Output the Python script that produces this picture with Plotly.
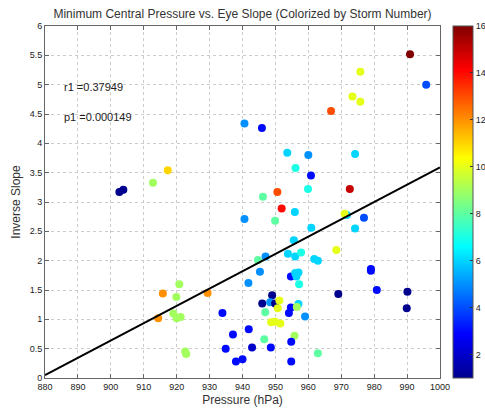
import plotly.graph_objects as go

# ---- data ----
pressure = [
    990.9, 995.8, 975.8, 973.4, 975.8, 966.9, 940.6, 945.9, 953.6, 960.0,
    974.2, 956.1, 960.8, 946.2, 950.6, 959.9, 972.6, 951.9, 955.9, 949.9,
    960.9, 971.7, 971.0, 976.9, 974.2, 955.6, 968.5, 940.6, 953.8, 956.0,
    957.8, 961.8, 962.9, 944.7, 947.0, 945.3, 941.8, 954.7, 956.0, 957.0,
    956.4, 957.2, 979.0, 979.0, 980.8, 969.1, 990.1, 989.9, 949.0, 946.0,
    948.4, 949.9, 951.2, 950.7, 954.7, 954.1, 957.0, 956.5, 946.9, 959.0,
    948.7, 949.9, 951.5, 937.1, 941.9, 955.8, 946.6, 954.8, 942.9, 948.6,
    962.9, 938.0, 940.0, 954.8, 902.6, 903.8, 912.8, 917.3, 915.8, 914.4,
    929.4, 920.8, 919.9, 919.0, 920.0, 921.2, 922.6, 922.9, 933.9, 934.9,
]
inverse_slope = [
    5.52, 5.00, 5.22, 4.80, 4.71, 4.55, 4.34, 4.26, 3.84, 3.80,
    3.82, 3.58, 3.45, 3.09, 3.17, 3.22, 3.22, 2.89, 2.83, 2.68,
    2.56, 2.78, 2.80, 2.73, 2.55, 2.35, 2.18, 2.71, 2.12, 2.07,
    2.14, 2.03, 2.00, 2.01, 2.07, 1.81, 1.62, 1.73, 1.79, 1.80,
    1.73, 1.60, 1.86, 1.83, 1.50, 1.43, 1.47, 1.19, 1.41, 1.27,
    1.29, 1.27, 1.32, 1.19, 1.20, 1.11, 1.26, 1.21, 1.12, 1.05,
    0.95, 0.96, 0.93, 0.74, 0.83, 0.72, 0.66, 0.62, 0.52, 0.52,
    0.42, 0.28, 0.32, 0.28, 3.17, 3.21, 3.33, 3.54, 1.44, 1.02,
    1.45, 1.60, 1.38, 1.10, 1.02, 1.04, 0.45, 0.41, 1.11, 0.50,
]
storm_number = [
    16, 4, 10, 10, 10, 13, 5, 3, 6, 5,
    6, 7, 3, 8, 13, 7, 15, 14, 6, 8,
    6, 6, 10, 4, 6, 6, 10, 5, 6, 6,
    7, 6, 6, 8, 5, 5, 5, 3, 6, 6,
    6, 7, 3, 3, 3, 1, 1, 1, 1, 1,
    5, 1, 10, 10, 3, 3, 6, 9, 8, 5,
    10, 10, 10, 3, 3, 9, 8, 3, 2, 3,
    8, 3, 3, 3, 1, 1, 9, 11, 12, 12,
    12, 9, 9, 9, 9, 9, 9, 9, 3, 3,
]
fit_x = [880, 1000]
fit_y = [0.05, 3.59]
r_text = "r1 =0.37949"
p_text = "p1 =0.000149"

x_ticks = list(range(880, 1001, 10))
y_ticks = [i * 0.5 for i in range(13)]
cbar_ticks = list(range(2, 17, 2))

FONT = "Liberation Sans, Arial, sans-serif"

matlab_jet = [
    [0.0, "rgb(0,0,143)"],
    [0.125, "rgb(0,0,255)"],
    [0.375, "rgb(0,255,255)"],
    [0.625, "rgb(255,255,0)"],
    [0.875, "rgb(255,0,0)"],
    [1.0, "rgb(128,0,0)"],
]

fig = go.Figure()

fig.add_trace(go.Scatter(
    x=pressure, y=inverse_slope, mode="markers",
    marker=dict(
        size=8, color=storm_number, colorscale=matlab_jet, cmin=1, cmax=16,
        line=dict(width=0),
        colorbar=dict(
            x=1.033, xanchor="left", xpad=0, y=0, yanchor="bottom", ypad=0,
            len=1, lenmode="fraction", thickness=20, outlinewidth=1,
            outlinecolor="#555", tickvals=cbar_ticks, ticks="inside",
            ticklen=3, tickcolor="#333",
            tickfont=dict(size=9, color="#222", family=FONT),
        ),
    ),
    showlegend=False, hoverinfo="x+y",
))

fig.add_trace(go.Scatter(
    x=fit_x, y=fit_y, mode="lines",
    line=dict(color="black", width=2), showlegend=False,
))

fig.add_annotation(x=885.2, y=4.96, text=r_text, showarrow=False,
                   xanchor="left", yanchor="middle",
                   font=dict(size=11, color="#222", family=FONT))
fig.add_annotation(x=885.2, y=4.45, text=p_text, showarrow=False,
                   xanchor="left", yanchor="middle",
                   font=dict(size=11, color="#222", family=FONT))

axis_common = dict(
    showgrid=True, gridcolor="#cccccc", griddash="dot", gridwidth=1,
    showline=True, linecolor="#666", linewidth=1, mirror="ticks",
    ticks="inside", ticklen=4, tickcolor="#666", zeroline=False,
    tickfont=dict(size=9, color="#222", family=FONT),
)

fig.update_layout(
    width=485, height=412,
    margin=dict(l=45, r=45, t=26, b=34, autoexpand=False),
    paper_bgcolor="white", plot_bgcolor="white",
    title=dict(text="Minimum Central Pressure vs. Eye Slope (Colorized by Storm Number)",
               x=0.5, xanchor="center", y=0.966, yanchor="middle",
               font=dict(size=12, color="#333", family=FONT)),
    xaxis=dict(range=[880, 1000], tickvals=x_ticks,
               title=dict(text="Pressure (hPa)", standoff=4,
                          font=dict(size=12, color="#333", family=FONT)),
               **axis_common),
    yaxis=dict(range=[0, 6], tickvals=y_ticks,
               title=dict(text="Inverse Slope", standoff=6,
                          font=dict(size=12, color="#333", family=FONT)),
               **axis_common),
)

fig.write_html("out.html")
